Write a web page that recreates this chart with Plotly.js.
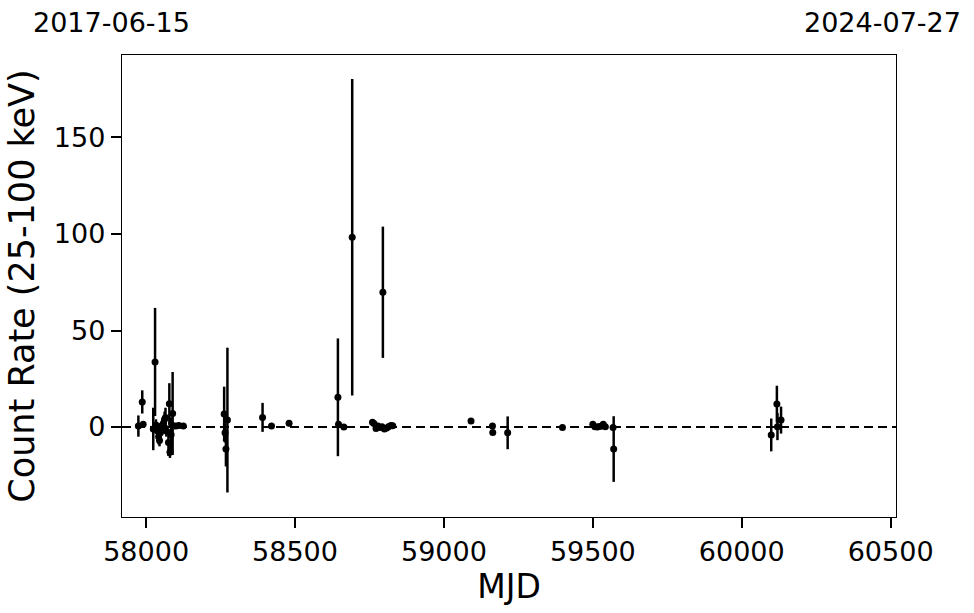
<!DOCTYPE html>
<html>
<head>
<meta charset="utf-8">
<script src="https://cdn.plot.ly/plotly-3.0.1.min.js"></script>
<style>html,body{margin:0;padding:0;background:#fff;}#chart{width:974px;height:613px;}</style>
</head>
<body>
<div id="chart"></div>
<script>
// MJD of each observation
const mjd = [
  57974, 57987, 57990, 58024, 58030, 58033, 58038, 58042, 58045, 58048,
  58052, 58055, 58058, 58062, 58065, 58068, 58075, 58078, 58080, 58084,
  58086, 58089, 58091, 58100, 58110, 58125,
  58262, 58265, 58268, 58273, 58391, 58421, 58480,
  58644, 58646, 58664, 58692, 58760, 58765, 58772, 58778, 58785, 58792,
  58795, 58800, 58808, 58815, 58822, 58828,
  59091, 59163, 59164, 59214, 59398,
  59500, 59507, 59515, 59522, 59530, 59535, 59542, 59568, 59570,
  60099, 60118, 60120, 60132
];
// count rate (25-100 keV)
const rate = [
  0.5, 13, 1.5, -1, 33.7, 1, -2, -5, -7, -3,
  -1, 1, 2, 4, 5, -2, -8, 12, -13, -4,
  1, 7, 0.5, 0.5, 0.8, 0.5,
  6.7, -3, -11.4, 3.6, 5, 0.5, 1.9,
  15.4, 1.5, 0, 98.3, 2.5, 1.8, -0.8, 0.5, -0.3, 0.2,
  69.8, -1, -0.5, 0.3, 0.8, 0.6,
  3.1, 0.5, -2.8, -3, -0.2,
  1.5, 0.2, 0, 0.3, 0.5, 1.5, 0.2, -0.3, -11.4,
  -4.1, 11.9, 0.2, 3.6
];
// 1-sigma errors
const rateErr = [
  5.5, 6, 1.5, 11, 28, 3, 4, 4, 3, 5,
  3, 3, 3, 4, 5, 3, 7, 10.7, 3, 9,
  3, 21.5, 1, 1, 1, 1,
  14.2, 5, 9, 37.5, 7.5, 1.5, 1.5,
  30.5, 1, 1.5, 82, 1, 1, 1, 1, 1, 1,
  34, 1, 1, 1, 1, 1,
  1, 1, 1, 8.5, 0.8,
  1, 1, 1, 1, 1, 1, 1, 1, 17,
  8.5, 9.5, 7, 7
];
const xRange = [57919, 60518];
const yRange = [-46.6, 192.7];
const xTicks = [58000, 58500, 59000, 59500, 60000, 60500];
const yTicks = [0, 50, 100, 150];
const startLabel = "2017-06-15";
const endLabel = "2024-07-27";

const font = "DejaVu Sans, sans-serif";

const traces = [
  {
    x: xRange, y: [0, 0], mode: "lines", type: "scatter",
    line: {color: "black", width: 2, dash: "9px,5px"}, hoverinfo: "skip", showlegend: false
  },
  {
    x: mjd, y: rate, mode: "markers", type: "scatter",
    marker: {color: "black", size: 7},
    error_y: {type: "data", array: rateErr, visible: true, color: "black", thickness: 2.5, width: 0},
    showlegend: false
  }
];

const layout = {
  width: 974, height: 613,
  margin: {l: 122, r: 78, t: 55, b: 96},
  paper_bgcolor: "white", plot_bgcolor: "white",
  font: {family: font, color: "black"},
  xaxis: {
    range: xRange, tickvals: xTicks, ticktext: xTicks.map(String),
    showgrid: false, zeroline: false, showline: true, mirror: true,
    linecolor: "black", linewidth: 1.2,
    ticks: "outside", ticklen: 10, tickwidth: 2, tickcolor: "black",
    tickfont: {size: 27, family: font},
    title: {text: "MJD", font: {size: 33, family: font}, standoff: 6}
  },
  yaxis: {
    range: yRange, tickvals: yTicks, ticktext: yTicks.map(String),
    showgrid: false, zeroline: false, showline: true, mirror: true,
    linecolor: "black", linewidth: 1.2,
    ticks: "outside", ticklen: 10, tickwidth: 2, tickcolor: "black",
    tickfont: {size: 27, family: font},
    title: {text: "Count Rate (25-100 keV)", font: {size: 35, family: font}, standoff: 8}
  },
  annotations: [
    {text: startLabel, xref: "paper", yref: "paper", x: -0.013, y: 1.07, xanchor: "center", yanchor: "middle",
     showarrow: false, font: {size: 27, family: font}},
    {text: endLabel, xref: "paper", yref: "paper", x: 0.982, y: 1.07, xanchor: "center", yanchor: "middle",
     showarrow: false, font: {size: 27, family: font}}
  ]
};

Plotly.newPlot("chart", traces, layout, {staticPlot: true, displayModeBar: false});
</script>
</body>
</html>
